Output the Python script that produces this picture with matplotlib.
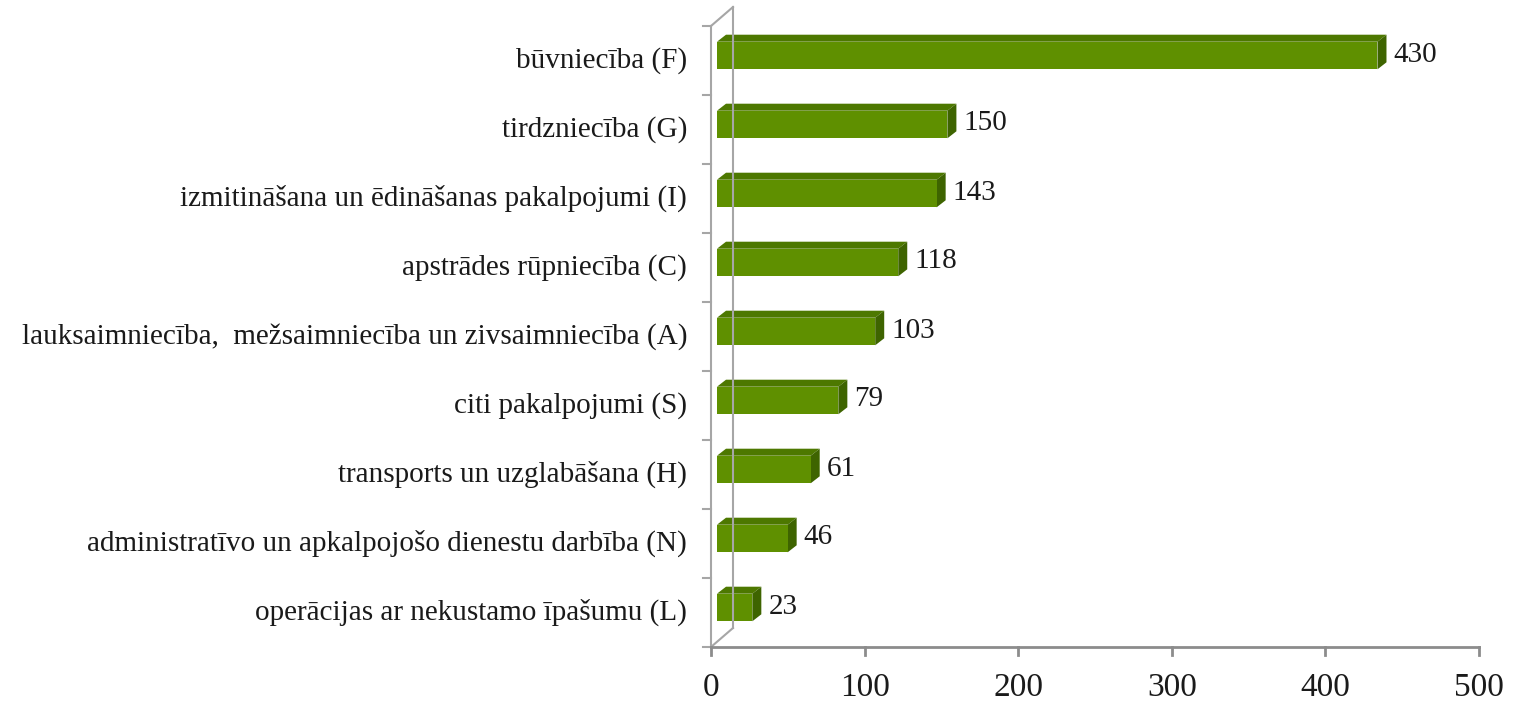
import matplotlib.pyplot as plt
from matplotlib.patches import Polygon
from matplotlib.transforms import Affine2D

nozares = [
    "būvniecība (F)",
    "tirdzniecība (G)",
    "izmitināšana un ēdināšanas pakalpojumi (I)",
    "apstrādes rūpniecība (C)",
    "lauksaimniecība,  mežsaimniecība un zivsaimniecība (A)",
    "citi pakalpojumi (S)",
    "transports un uzglabāšana (H)",
    "administratīvo un apkalpojošo dienestu darbība (N)",
    "operācijas ar nekustamo īpašumu (L)",
]
vertibas = [430, 150, 143, 118, 103, 79, 61, 46, 23]
x_ticks = [0, 100, 200, 300, 400, 500]

plt.rcParams['font.family'] = ['Liberation Serif', 'DejaVu Serif']

fig = plt.figure(figsize=(15.15, 7.05), dpi=100)
ax = fig.add_axes([711 / 1515, 1 - 647 / 705, 768 / 1515, 621 / 705])
ax.set_xlim(0, 500)
ax.set_ylim(-0.5, len(nozares) - 0.5)
for s in ax.spines.values():
    s.set_visible(False)
ax.set_xticks([])
ax.set_yticks([])

# pikseļu nobīdes 3D efektam (displeja koordinātās, y uz augšu)
def nobide(dx, dy):
    return ax.transData + Affine2D().translate(dx, dy)

wall = "#a6a6a6"
front = nobide(0, 0)
back = nobide(22, 19)
n = len(nozares)
y0, y1 = -0.5, n - 0.5

# sienas līnijas
ax.plot([0, 0], [y0, y1], color=wall, lw=1.5, transform=front, clip_on=False)
ax.plot([0, 0], [y0, y1], color=wall, lw=1.5, transform=back, clip_on=False)
trf = ax.transData
p_top = trf.transform((0, y1))
p_bot = trf.transform((0, y0))
for p in (p_top, p_bot):
    ax.plot([p[0], p[0] + 22], [p[1], p[1] + 19], color=wall, lw=1.5,
            transform=None, clip_on=False)
# kreisās sienas ieskalas
for k in range(n + 1):
    py = trf.transform((0, y0 + k))[1]
    ax.plot([p_bot[0] - 8, p_bot[0]], [py, py], color=wall, lw=1.5,
            transform=None, clip_on=False)

# x ass
ax.plot([0, 500], [y0, y0], color="#8c8c8c", lw=2, clip_on=False)
for t in x_ticks:
    px = trf.transform((t, y0))
    ax.plot([px[0], px[0]], [px[1], px[1] - 8], color="#8c8c8c", lw=2,
            transform=None, clip_on=False)
    ax.text(t, y0, str(t), transform=nobide(0, -41), ha="center", va="center",
            fontsize=24, color="#1a1a1a")

# stabiņi
c_front = "#5f9000"
c_top = "#4d7800"
c_side = "#3e6400"
h = 0.4
dx, dy = 9, 7
for i, (nos, v) in enumerate(zip(nozares, vertibas)):
    yc = n - 1 - i
    a = trf.transform((0, yc - h / 2)) + (6, 5)
    b = trf.transform((v, yc + h / 2)) + (6, 5)
    xl, yb = a
    xr, yt = b
    ax.add_patch(Polygon([(xl, yt), (xr, yt), (xr + dx, yt + dy), (xl + dx, yt + dy)],
                         closed=True, fc=c_top, ec="none", transform=None, clip_on=False))
    ax.add_patch(Polygon([(xr, yb), (xr + dx, yb + dy), (xr + dx, yt + dy), (xr, yt)],
                         closed=True, fc=c_side, ec="none", transform=None, clip_on=False))
    ax.add_patch(Polygon([(xl, yb), (xr, yb), (xr, yt), (xl, yt)],
                         closed=True, fc=c_front, ec="none", transform=None, clip_on=False))
    ax.text(v, yc, str(v), transform=nobide(22, 6), ha="left", va="center",
            fontsize=21, color="#1a1a1a")
    ax.text(0, yc, nos, transform=nobide(-24, 0), ha="right", va="center",
            fontsize=21, color="#1a1a1a")

fig.savefig("out.png", dpi=100)
